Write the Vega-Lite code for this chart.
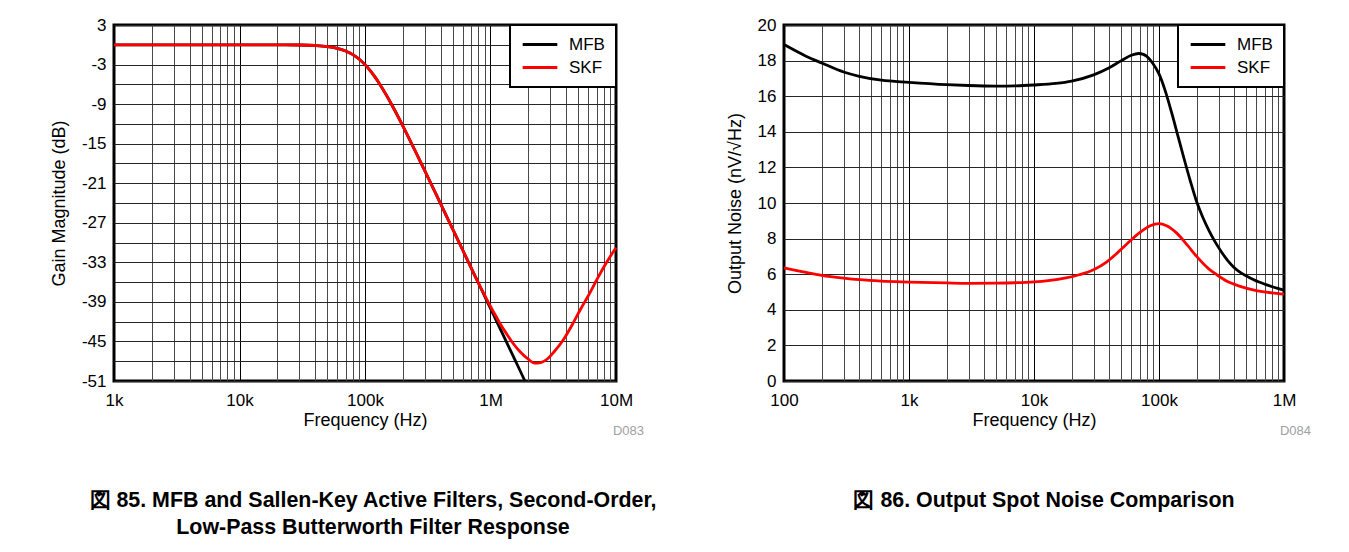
{
  "$schema": "https://vega.github.io/schema/vega-lite/v6.json",
  "background": "white",
  "padding": {"left": 48, "top": 14, "right": 5, "bottom": 5},
  "bounds": "flush",
  "spacing": 168,
  "resolve": {"scale": {"color": "independent"}, "legend": {"color": "independent"}},
  "config": {
    "font": "Liberation Sans",
    "view": {"stroke": "black", "strokeWidth": 3},
    "axis": {
      "labelFont": "Liberation Sans", "titleFont": "Liberation Sans",
      "labelFontSize": 17, "titleFontSize": 18,
      "labelColor": "black", "titleColor": "black", "titleFontWeight": "normal",
      "domain": false, "ticks": false, "grid": true, "gridOpacity": 1, "gridWidth": 1,
      "labelOverlap": false, "labelBound": false, "labelFlush": false, "tickCount": 200
    },
    "legend": {
      "orient": "top-right", "offset": 0, "title": null,
      "symbolType": "stroke", "symbolSize": 1200, "symbolStrokeWidth": 3, "clipHeight": 17,
      "labelFont": "Liberation Sans", "labelFontSize": 17, "labelColor": "black", "labelOffset": 10,
      "fillColor": "white", "strokeColor": "black", "strokeWidth": 2,
      "padding": 11, "rowPadding": 5
    }
  },
  "datasets": {
    "gain": [
      {"f": 1000, "series": "MFB", "v": 0},
      {"f": 2000, "series": "MFB", "v": 0},
      {"f": 5000, "series": "MFB", "v": 0},
      {"f": 10000, "series": "MFB", "v": 0},
      {"f": 20000, "series": "MFB", "v": -0.007},
      {"f": 30000, "series": "MFB", "v": -0.035},
      {"f": 40000, "series": "MFB", "v": -0.11},
      {"f": 50000, "series": "MFB", "v": -0.263},
      {"f": 60000, "series": "MFB", "v": -0.53},
      {"f": 70000, "series": "MFB", "v": -0.934},
      {"f": 80000, "series": "MFB", "v": -1.491},
      {"f": 90000, "series": "MFB", "v": -2.191},
      {"f": 100000, "series": "MFB", "v": -3.01},
      {"f": 110000, "series": "MFB", "v": -3.917},
      {"f": 120000, "series": "MFB", "v": -4.876},
      {"f": 130000, "series": "MFB", "v": -5.861},
      {"f": 150000, "series": "MFB", "v": -7.826},
      {"f": 170000, "series": "MFB", "v": -9.709},
      {"f": 200000, "series": "MFB", "v": -12.304},
      {"f": 250000, "series": "MFB", "v": -16.027},
      {"f": 300000, "series": "MFB", "v": -19.138},
      {"f": 400000, "series": "MFB", "v": -24.099},
      {"f": 500000, "series": "MFB", "v": -27.966},
      {"f": 600000, "series": "MFB", "v": -31.129},
      {"f": 700000, "series": "MFB", "v": -33.806},
      {"f": 800000, "series": "MFB", "v": -36.125},
      {"f": 900000, "series": "MFB", "v": -38.17},
      {"f": 1000000, "series": "MFB", "v": -40.0},
      {"f": 1200000, "series": "MFB", "v": -43.167},
      {"f": 1500000, "series": "MFB", "v": -47.043},
      {"f": 1700000, "series": "MFB", "v": -49.218},
      {"f": 1880000, "series": "MFB", "v": -51.0},
      {"f": 1000, "series": "SKF", "v": 0},
      {"f": 2000, "series": "SKF", "v": 0},
      {"f": 5000, "series": "SKF", "v": 0},
      {"f": 10000, "series": "SKF", "v": 0},
      {"f": 20000, "series": "SKF", "v": -0.007},
      {"f": 30000, "series": "SKF", "v": -0.035},
      {"f": 40000, "series": "SKF", "v": -0.11},
      {"f": 50000, "series": "SKF", "v": -0.263},
      {"f": 60000, "series": "SKF", "v": -0.53},
      {"f": 70000, "series": "SKF", "v": -0.934},
      {"f": 80000, "series": "SKF", "v": -1.491},
      {"f": 90000, "series": "SKF", "v": -2.191},
      {"f": 100000, "series": "SKF", "v": -3.01},
      {"f": 110000, "series": "SKF", "v": -3.917},
      {"f": 120000, "series": "SKF", "v": -4.876},
      {"f": 130000, "series": "SKF", "v": -5.861},
      {"f": 150000, "series": "SKF", "v": -7.826},
      {"f": 170000, "series": "SKF", "v": -9.709},
      {"f": 200000, "series": "SKF", "v": -12.304},
      {"f": 250000, "series": "SKF", "v": -16.027},
      {"f": 300000, "series": "SKF", "v": -19.138},
      {"f": 400000, "series": "SKF", "v": -24.099},
      {"f": 500000, "series": "SKF", "v": -27.966},
      {"f": 600000, "series": "SKF", "v": -31.129},
      {"f": 700000, "series": "SKF", "v": -33.806},
      {"f": 800000, "series": "SKF", "v": -36.1},
      {"f": 900000, "series": "SKF", "v": -38.0},
      {"f": 1000000, "series": "SKF", "v": -39.7},
      {"f": 1100000, "series": "SKF", "v": -41.1},
      {"f": 1200000, "series": "SKF", "v": -42.4},
      {"f": 1350000, "series": "SKF", "v": -43.9},
      {"f": 1500000, "series": "SKF", "v": -45.2},
      {"f": 1730000, "series": "SKF", "v": -46.6},
      {"f": 2000000, "series": "SKF", "v": -47.7},
      {"f": 2250000, "series": "SKF", "v": -48.3},
      {"f": 2500000, "series": "SKF", "v": -48.2},
      {"f": 2820000, "series": "SKF", "v": -47.7},
      {"f": 3200000, "series": "SKF", "v": -46.6},
      {"f": 3820000, "series": "SKF", "v": -44.7},
      {"f": 4500000, "series": "SKF", "v": -42.4},
      {"f": 5190000, "series": "SKF", "v": -40.2},
      {"f": 6000000, "series": "SKF", "v": -38.1},
      {"f": 7050000, "series": "SKF", "v": -35.6},
      {"f": 8000000, "series": "SKF", "v": -33.7},
      {"f": 9000000, "series": "SKF", "v": -32.1},
      {"f": 10000000, "series": "SKF", "v": -30.8}
    ],
    "noise": [
      {"f": 100, "series": "MFB", "v": 18.9},
      {"f": 150, "series": "MFB", "v": 18.25},
      {"f": 200, "series": "MFB", "v": 17.87},
      {"f": 300, "series": "MFB", "v": 17.36},
      {"f": 400, "series": "MFB", "v": 17.12},
      {"f": 600, "series": "MFB", "v": 16.9},
      {"f": 1000, "series": "MFB", "v": 16.78},
      {"f": 2000, "series": "MFB", "v": 16.65},
      {"f": 3000, "series": "MFB", "v": 16.6},
      {"f": 5000, "series": "MFB", "v": 16.57},
      {"f": 7000, "series": "MFB", "v": 16.58},
      {"f": 10000, "series": "MFB", "v": 16.63},
      {"f": 15000, "series": "MFB", "v": 16.72},
      {"f": 20000, "series": "MFB", "v": 16.85},
      {"f": 30000, "series": "MFB", "v": 17.2},
      {"f": 40000, "series": "MFB", "v": 17.6},
      {"f": 50000, "series": "MFB", "v": 18.0},
      {"f": 60000, "series": "MFB", "v": 18.3},
      {"f": 68600, "series": "MFB", "v": 18.4},
      {"f": 75000, "series": "MFB", "v": 18.35},
      {"f": 79400, "series": "MFB", "v": 18.25},
      {"f": 89100, "series": "MFB", "v": 17.85},
      {"f": 100000, "series": "MFB", "v": 17.25},
      {"f": 112200, "series": "MFB", "v": 16.3},
      {"f": 125900, "series": "MFB", "v": 15.1},
      {"f": 141300, "series": "MFB", "v": 13.8},
      {"f": 158500, "series": "MFB", "v": 12.5},
      {"f": 177800, "series": "MFB", "v": 11.25},
      {"f": 199500, "series": "MFB", "v": 10.1},
      {"f": 223900, "series": "MFB", "v": 9.2},
      {"f": 251200, "series": "MFB", "v": 8.45},
      {"f": 281800, "series": "MFB", "v": 7.8},
      {"f": 316200, "series": "MFB", "v": 7.25},
      {"f": 354800, "series": "MFB", "v": 6.76},
      {"f": 398100, "series": "MFB", "v": 6.38},
      {"f": 446700, "series": "MFB", "v": 6.1},
      {"f": 501200, "series": "MFB", "v": 5.9},
      {"f": 562300, "series": "MFB", "v": 5.72},
      {"f": 631000, "series": "MFB", "v": 5.56},
      {"f": 707900, "series": "MFB", "v": 5.43},
      {"f": 794300, "series": "MFB", "v": 5.31},
      {"f": 891300, "series": "MFB", "v": 5.2},
      {"f": 1000000, "series": "MFB", "v": 5.1},
      {"f": 100, "series": "SKF", "v": 6.35},
      {"f": 150, "series": "SKF", "v": 6.1},
      {"f": 200, "series": "SKF", "v": 5.94},
      {"f": 300, "series": "SKF", "v": 5.78},
      {"f": 400, "series": "SKF", "v": 5.69},
      {"f": 600, "series": "SKF", "v": 5.61},
      {"f": 1000, "series": "SKF", "v": 5.56},
      {"f": 2000, "series": "SKF", "v": 5.51},
      {"f": 3000, "series": "SKF", "v": 5.49},
      {"f": 5000, "series": "SKF", "v": 5.5},
      {"f": 7000, "series": "SKF", "v": 5.52},
      {"f": 10000, "series": "SKF", "v": 5.57},
      {"f": 13000, "series": "SKF", "v": 5.64},
      {"f": 18000, "series": "SKF", "v": 5.79},
      {"f": 23000, "series": "SKF", "v": 5.97},
      {"f": 30000, "series": "SKF", "v": 6.25},
      {"f": 38000, "series": "SKF", "v": 6.68},
      {"f": 46000, "series": "SKF", "v": 7.17},
      {"f": 55000, "series": "SKF", "v": 7.68},
      {"f": 70000, "series": "SKF", "v": 8.33},
      {"f": 85000, "series": "SKF", "v": 8.72},
      {"f": 100000, "series": "SKF", "v": 8.84},
      {"f": 115000, "series": "SKF", "v": 8.72},
      {"f": 140000, "series": "SKF", "v": 8.28},
      {"f": 170000, "series": "SKF", "v": 7.6},
      {"f": 200000, "series": "SKF", "v": 7.0},
      {"f": 250000, "series": "SKF", "v": 6.3},
      {"f": 290000, "series": "SKF", "v": 5.97},
      {"f": 350000, "series": "SKF", "v": 5.6},
      {"f": 446000, "series": "SKF", "v": 5.32},
      {"f": 600000, "series": "SKF", "v": 5.08},
      {"f": 800000, "series": "SKF", "v": 4.95},
      {"f": 1000000, "series": "SKF", "v": 4.88}
    ],
    "noteLeft": [{"note": "D083"}],
    "noteRight": [{"note": "D084"}]
  },
  "hconcat": [
    {
      "width": 502,
      "height": 356,
      "title": {
        "text": ["図 85. MFB and Sallen-Key Active Filters, Second-Order,", "Low-Pass Butterworth Filter Response"],
        "orient": "bottom", "anchor": "middle", "frame": "group",
        "font": "Liberation Sans", "fontSize": 21.4, "fontWeight": "bold", "color": "black",
        "lineHeight": 27, "offset": 52, "dx": 8
      },
      "layer": [
        {
          "data": {"name": "gain"},
          "mark": {"type": "line", "strokeWidth": 2.8, "interpolate": "monotone"},
          "encoding": {
            "x": {
              "field": "f", "type": "quantitative",
              "scale": {"type": "log", "domain": [1000, 10000000], "nice": false},
              "axis": {
                "title": "Frequency (Hz)", "titlePadding": 3, "labelPadding": 11,
                "values": [1000, 2000, 3000, 4000, 5000, 6000, 7000, 8000, 9000, 10000, 20000, 30000, 40000, 50000, 60000, 70000, 80000, 90000, 100000, 200000, 300000, 400000, 500000, 600000, 700000, 800000, 900000, 1000000, 2000000, 3000000, 4000000, 5000000, 6000000, 7000000, 8000000, 9000000, 10000000],
                "labelExpr": "datum.value == 1000 ? '1k' : datum.value == 10000 ? '10k' : datum.value == 100000 ? '100k' : datum.value == 1000000 ? '1M' : datum.value == 10000000 ? '10M' : ''",
                "gridColor": {"condition": {"test": "datum.value == 1000 || datum.value == 10000 || datum.value == 100000 || datum.value == 1000000 || datum.value == 10000000", "value": "#000000"}, "value": "#484848"}
              }
            },
            "y": {
              "field": "v", "type": "quantitative",
              "scale": {"domain": [-51, 3], "nice": false, "zero": false},
              "axis": {
                "title": "Gain Magnitude (dB)", "titlePadding": 13, "labelPadding": 8,
                "values": [-51, -48, -45, -42, -39, -36, -33, -30, -27, -24, -21, -18, -15, -12, -9, -6, -3, 0, 3],
                "labelExpr": "(3 - datum.value) % 6 == 0 ? '' + datum.value : ''",
                "gridColor": "#262626"
              }
            },
            "color": {
              "field": "series", "type": "nominal",
              "scale": {"domain": ["MFB", "SKF"], "range": ["#000000", "#ff0000"]},
              "legend": {"title": null}
            }
          }
        },
        {
          "data": {"name": "noteLeft"},
          "mark": {"type": "text", "align": "right", "baseline": "middle", "dx": 28, "dy": 50, "fontSize": 13, "color": "#a0a0a0", "font": "Liberation Sans"},
          "encoding": {
            "x": {"datum": 10000000, "type": "quantitative"},
            "y": {"datum": -51, "type": "quantitative"},
            "text": {"field": "note", "type": "nominal"}
          }
        }
      ]
    },
    {
      "width": 500,
      "height": 356,
      "title": {
        "text": "図 86. Output Spot Noise Comparison",
        "orient": "bottom", "anchor": "middle", "frame": "group",
        "font": "Liberation Sans", "fontSize": 21.4, "fontWeight": "bold", "color": "black",
        "lineHeight": 27, "offset": 52, "dx": 10
      },
      "layer": [
        {
          "data": {"name": "noise"},
          "mark": {"type": "line", "strokeWidth": 2.8, "interpolate": "monotone"},
          "encoding": {
            "x": {
              "field": "f", "type": "quantitative",
              "scale": {"type": "log", "domain": [100, 1000000], "nice": false},
              "axis": {
                "title": "Frequency (Hz)", "titlePadding": 3, "labelPadding": 11,
                "values": [100, 200, 300, 400, 500, 600, 700, 800, 900, 1000, 2000, 3000, 4000, 5000, 6000, 7000, 8000, 9000, 10000, 20000, 30000, 40000, 50000, 60000, 70000, 80000, 90000, 100000, 200000, 300000, 400000, 500000, 600000, 700000, 800000, 900000, 1000000],
                "labelExpr": "datum.value == 100 ? '100' : datum.value == 1000 ? '1k' : datum.value == 10000 ? '10k' : datum.value == 100000 ? '100k' : datum.value == 1000000 ? '1M' : ''",
                "gridColor": {"condition": {"test": "datum.value == 100 || datum.value == 1000 || datum.value == 10000 || datum.value == 100000 || datum.value == 1000000", "value": "#000000"}, "value": "#484848"}
              }
            },
            "y": {
              "field": "v", "type": "quantitative",
              "scale": {"domain": [0, 20], "nice": false, "zero": true},
              "axis": {
                "title": "Output Noise (nV/√Hz)", "titlePadding": 13, "labelPadding": 8,
                "values": [0, 2, 4, 6, 8, 10, 12, 14, 16, 18, 20],
                "labelExpr": "'' + datum.value",
                "gridColor": "#262626"
              }
            },
            "color": {
              "field": "series", "type": "nominal",
              "scale": {"domain": ["MFB", "SKF"], "range": ["#000000", "#ff0000"]},
              "legend": {"title": null}
            }
          }
        },
        {
          "data": {"name": "noteRight"},
          "mark": {"type": "text", "align": "right", "baseline": "middle", "dx": 27, "dy": 50, "fontSize": 13, "color": "#a0a0a0", "font": "Liberation Sans"},
          "encoding": {
            "x": {"datum": 1000000, "type": "quantitative"},
            "y": {"datum": 0, "type": "quantitative"},
            "text": {"field": "note", "type": "nominal"}
          }
        }
      ]
    }
  ]
}
